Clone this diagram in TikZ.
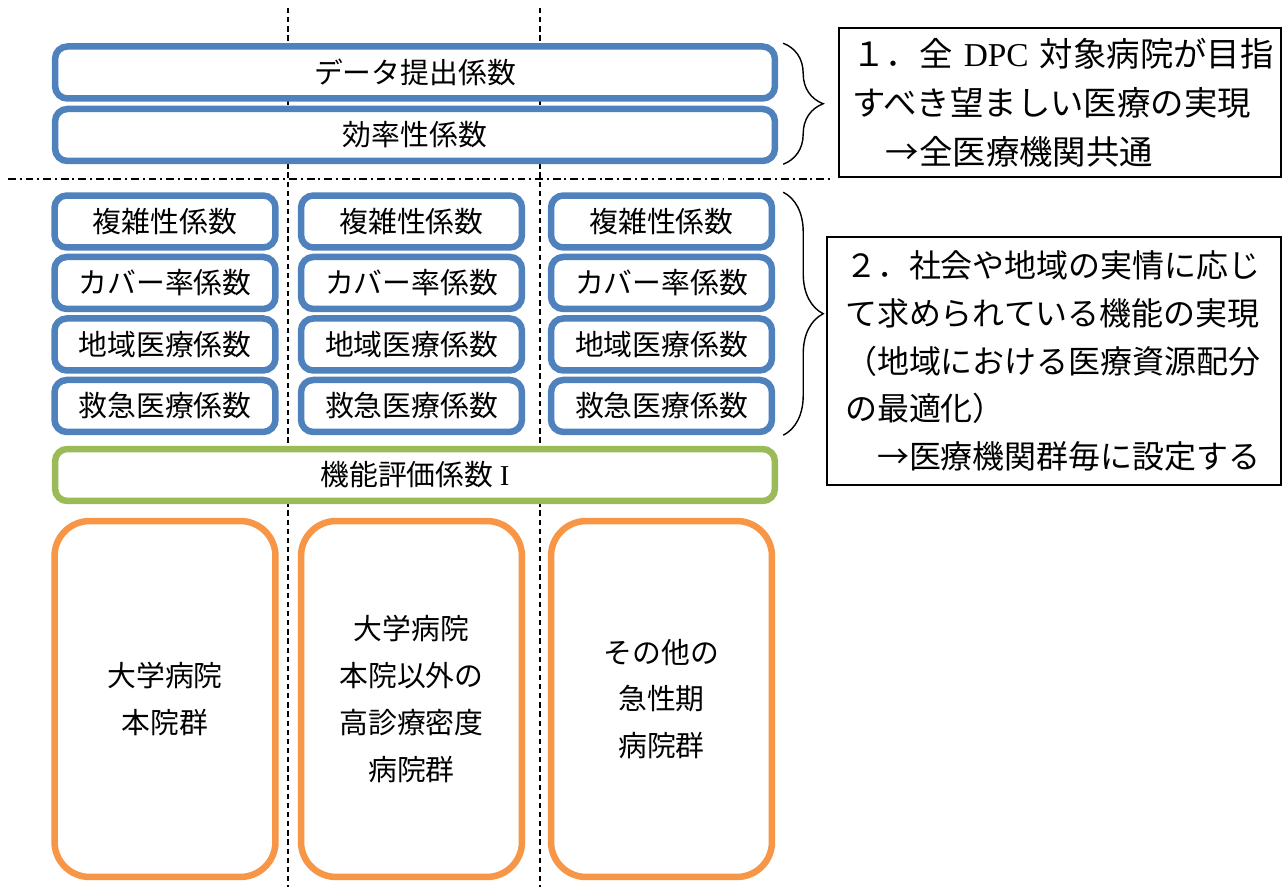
\documentclass[tikz,border=0pt]{standalone}
\usepackage{fontspec}
\newfontfamily\cjk{Noto Sans CJK JP}
\newfontfamily\latin{Liberation Serif}
\usepackage{xcolor}
\definecolor{boxblue}{RGB}{79,129,189}
\definecolor{boxgreen}{RGB}{155,187,89}
\definecolor{boxorange}{RGB}{247,150,70}
\usepackage{tikz}
\usetikzlibrary{positioning}
\usetikzlibrary{decorations.pathreplacing}

\begin{document}
\begin{tikzpicture}[x=0.02cm,y=-0.02cm,
every node/.style={font=\cjk\fontsize{16.4}{26.6}\selectfont,align=center,inner sep=0pt},
coef/.style={draw=boxblue,fill=white,line width=3.7pt,rounded corners=7pt,minimum height=1.04cm},
wide/.style={minimum width=14.4cm},
narrow/.style={minimum width=4.42cm},
group/.style={draw=boxorange,fill=white,line width=3.7pt,rounded corners=20pt,minimum width=4.42cm,minimum height=7.12cm},
note/.style={draw,line width=1.1pt,align=left},
colline/.style={line width=1.1pt,dash pattern=on 3pt off 2.2pt},
rowline/.style={line width=1.1pt,dash pattern=on 4.5pt off 2.2pt on 1.1pt off 2.2pt},
curly/.style={decorate,decoration={brace,amplitude=0.8cm},line width=0.8pt}]
\fill[white] (0,0) rectangle (1287,887);
\foreach \x in {288,540} \draw[colline] (\x,8) -- (\x,887);
\draw[rowline] (8,179) -- (830,179);
\node[coef,wide] (data) at (415,72.5) {データ提出係数};
\node[coef,wide,below=0.08cm of data] (eff) {効率性係数};
\foreach \i/\x in {1/165,2/411.5,3/661.5}{
\node[coef,narrow] (cplx\i) at (\x,221.5) {複雑性係数};
\node[coef,narrow,below=0.06cm of cplx\i] (cover\i) {カバー率係数};
\node[coef,narrow,below=0.06cm of cover\i] (region\i) {地域医療係数};
\node[coef,narrow,below=0.06cm of region\i] (emerg\i) {救急医療係数};
}
\node[coef,wide,draw=boxgreen] (func) at (415,475) {機能評価係数 {\latin I}};
\node[group] (univ) at (165,699) {大学病院\\本院群};
\node[group] (high) at (411.5,699) {大学病院\\本院以外の\\高診療密度\\病院群};
\node[group] (other) at (661.5,699) {その他の\\急性期\\病院群};
\draw[curly] ([xshift=0.1cm]data.north east) -- ([xshift=0.1cm]eff.south east);
\draw[curly] ([xshift=0.16cm]cplx3.north east) -- ([xshift=0.16cm]emerg3.south east);
\node[note,font=\cjk\fontsize{19}{27.8}\selectfont,text width=8.3cm,inner xsep=0.27cm,minimum height=2.98cm] (common) at (1060,102.5) {１．全~{\latin DPC}~対象病院が目指\\すべき望ましい医療の実現\\　→全医療機関共通};
\node[note,font=\cjk\fontsize{18.2}{27.2}\selectfont,text width=8.36cm,inner xsep=0.36cm,minimum height=4.96cm] (local) at (1054,361) {２．社会や地域の実情に応じ\\て求められている機能の実現\\（地域における医療資源配分\\の最適化）\\　→医療機関群毎に設定する};
\end{tikzpicture}
\end{document}
